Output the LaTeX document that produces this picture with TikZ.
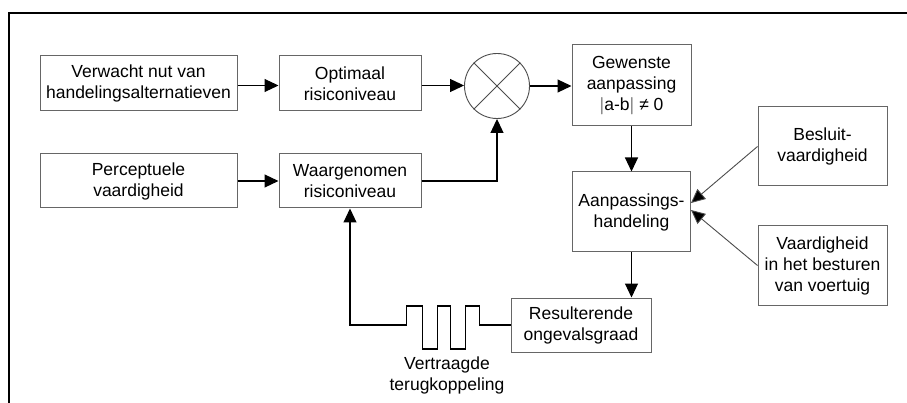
\documentclass[tikz,border=0pt]{standalone}
\usepackage{fontspec}
\setmainfont{Liberation Sans}
\usetikzlibrary{arrows.meta}
\begin{document}
\begin{tikzpicture}[x=1pt,y=1pt,
  box/.style={draw=black!60,line width=1pt,inner sep=0pt,align=center,
    font=\fontsize{17.5}{21}\selectfont},
  arr/.style={line width=1.1pt,-{Triangle[length=14pt,width=13pt]}},
  diag/.style={draw=black!70,line width=0.9pt,-{Triangle[length=14pt,width=13pt,fill=black]}},
  lbl/.style={align=center,inner sep=0pt,font=\fontsize{17.5}{21}\selectfont}]
\useasboundingbox (0,0) rectangle (907,-403);
\fill[white] (0,0) rectangle (907,-403);
% frame
\draw[line width=2.6pt] (9,-403) -- (9,-13) -- (907,-13);
% nodes
\node[box,minimum width=197,minimum height=55] (vn) at (138.5,-83.5) {Verwacht nut van\\handelingsalternatieven};
\node[box,minimum width=142,minimum height=55] (opt) at (350,-83.5) {Optimaal\\risiconiveau};
\node[box,minimum width=197,minimum height=54] (pv) at (138.5,-181) {Perceptuele\\vaardigheid};
\node[box,minimum width=142,minimum height=54] (wr) at (350,-181) {Waargenomen\\risiconiveau};
\node[draw=black!70,line width=0.9pt,circle,minimum size=65,inner sep=0pt] (c) at (497,-86) {};
\draw[black!70,line width=0.9pt] (c.north east) -- (c.south west) (c.north west) -- (c.south east);
\node[box,minimum width=119,minimum height=81] (gw) at (631.5,-85.5) {Gewenste\\aanpassing\\$|$a-b$|$ ≠ 0};
\node[box,minimum width=129,minimum height=79] (bes) at (822.5,-146.5) {Besluit-\\vaardigheid};
\node[box,minimum width=118,minimum height=80] (ah) at (631.5,-212) {Aanpassings-\\handeling};
\node[box,minimum width=129,minimum height=79] (vb) at (822.5,-265.5) {Vaardigheid\\in het besturen\\van voertuig};
\node[box,minimum width=140,minimum height=54] (res) at (581,-325) {Resulterende\\ongevalsgraad};
\node[lbl] (vt) at (447,-375) {Vertraagde\\terugkoppeling};
% connectors
\draw[arr] (vn.east) ++(0,-2) coordinate (a1) -- (a1 -| opt.west);
\draw[arr] (opt.east) ++(0,-2) coordinate (a2) -- (a2 -| c.west);
\draw[arr] (c.east) -- (c.east -| gw.west);
\draw[arr] (pv.east) -- (wr.west);
\draw[arr] (wr.east) -| (c.south);
\draw[arr] (gw.south) -- (ah.north);
\draw[arr] (ah.south) -- (res.north -| ah.south);
\draw[diag] (bes.west) -- ([yshift=9]ah.east);
\draw[diag] (vb.west) -- ([yshift=2]ah.east);
\draw[arr] (res.west) -- ++(-31,0) -- ++(0,19) -- ++(-14,0) -- ++(0,-43) -- ++(-15,0)
  -- ++(0,43) -- ++(-13,0) -- ++(0,-43) -- ++(-15,0) -- ++(0,43) -- ++(-16,0)
  -- ++(0,-19) -| (wr.south);
\end{tikzpicture}
\end{document}
